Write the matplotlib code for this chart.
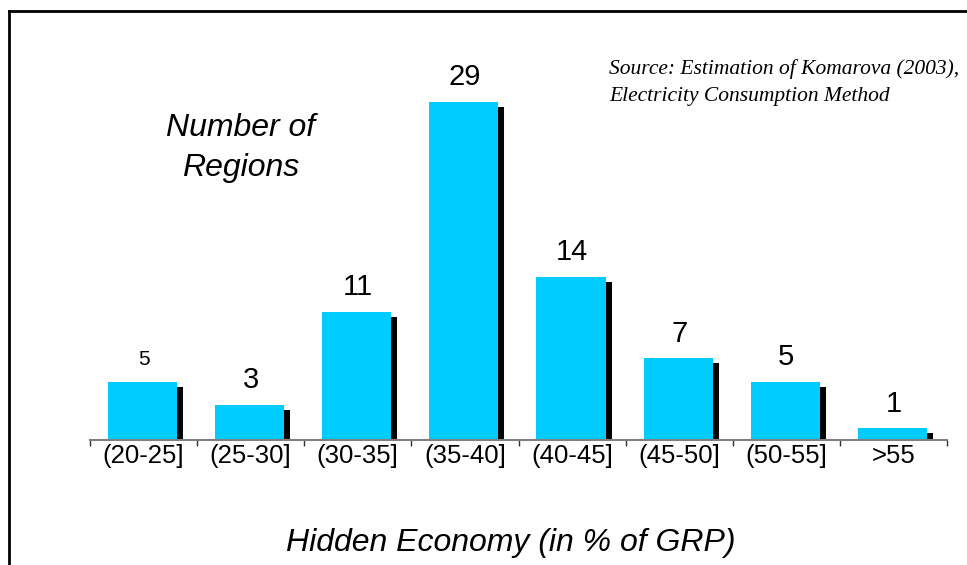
import matplotlib
matplotlib.use('Agg')
import matplotlib.pyplot as plt
from matplotlib.lines import Line2D
import numpy as np

categories = ['(20-25]', '(25-30]', '(30-35]', '(35-40]', '(40-45]', '(45-50]', '(50-55]', '>55']
regions = [5, 3, 11, 29, 14, 7, 5, 1]
label_sizes = [15, 21, 21, 21, 21, 21, 21, 21]

plt.rcParams['font.family'] = ['Liberation Sans', 'DejaVu Sans']

W, H = 967, 565
fig = plt.figure(figsize=(W / 100, H / 100), dpi=100)
ax = fig.add_axes([90 / W, 125 / H, (947 - 90) / W, (440 - 67) / H])

x = np.arange(len(categories))
bw = 0.645
px_x = 1 / 107.1   # data units per pixel, horizontally
px_y = 32 / 373.0  # data units per pixel, vertically

vals = np.array(regions, dtype=float)
ax.bar(x - 0.01 + 6 * px_x, vals - 5 * px_y, width=bw, color='black', zorder=2)
ax.bar(x - 0.01, vals, width=bw, color='#00CCFF', zorder=3)

ax.set_xlim(-0.5, len(categories) - 0.5)
ax.set_ylim(0, 32)
for s in ['top', 'right', 'left']:
    ax.spines[s].set_visible(False)
ax.spines['bottom'].set_color('#808080')
ax.spines['bottom'].set_linewidth(1.5)
ax.spines['bottom'].set_zorder(4)
ax.set_yticks([])

ax.set_xticks(x)
ax.set_xticklabels(categories, fontsize=18.5)
ax.set_xticks(np.arange(-0.5, len(categories), 1), minor=True)
ax.tick_params(axis='x', which='major', length=0, pad=3)
ax.tick_params(axis='x', which='minor', length=4.5, width=1, color='#303030', direction='out')

for xi, v, fs in zip(x, regions, label_sizes):
    ax.annotate(str(v), (xi, v), xytext=(0, 12), textcoords='offset points',
                ha='center', va='baseline', fontsize=fs)

fig.text(241 / W, 1 - 148 / H, 'Number of\nRegions', ha='center', va='center',
         style='italic', fontsize=23, linespacing=1.4)
fig.text(511 / W, 1 - 543 / H, 'Hidden Economy (in % of GRP)', ha='center', va='center',
         style='italic', fontsize=23)
fig.text(609 / W, 1 - 59 / H, 'Source: Estimation of Komarova (2003),\nElectricity Consumption Method',
         ha='left', va='top', family='Liberation Serif', style='italic', fontsize=15.5,
         linespacing=1.55)

fig.add_artist(Line2D([9 / W, 9 / W], [0, 1 - 11 / H], color='black', lw=2, transform=fig.transFigure))
fig.add_artist(Line2D([9 / W, 1], [1 - 11 / H, 1 - 11 / H], color='black', lw=2, transform=fig.transFigure))

fig.savefig('out.png', dpi=100)
